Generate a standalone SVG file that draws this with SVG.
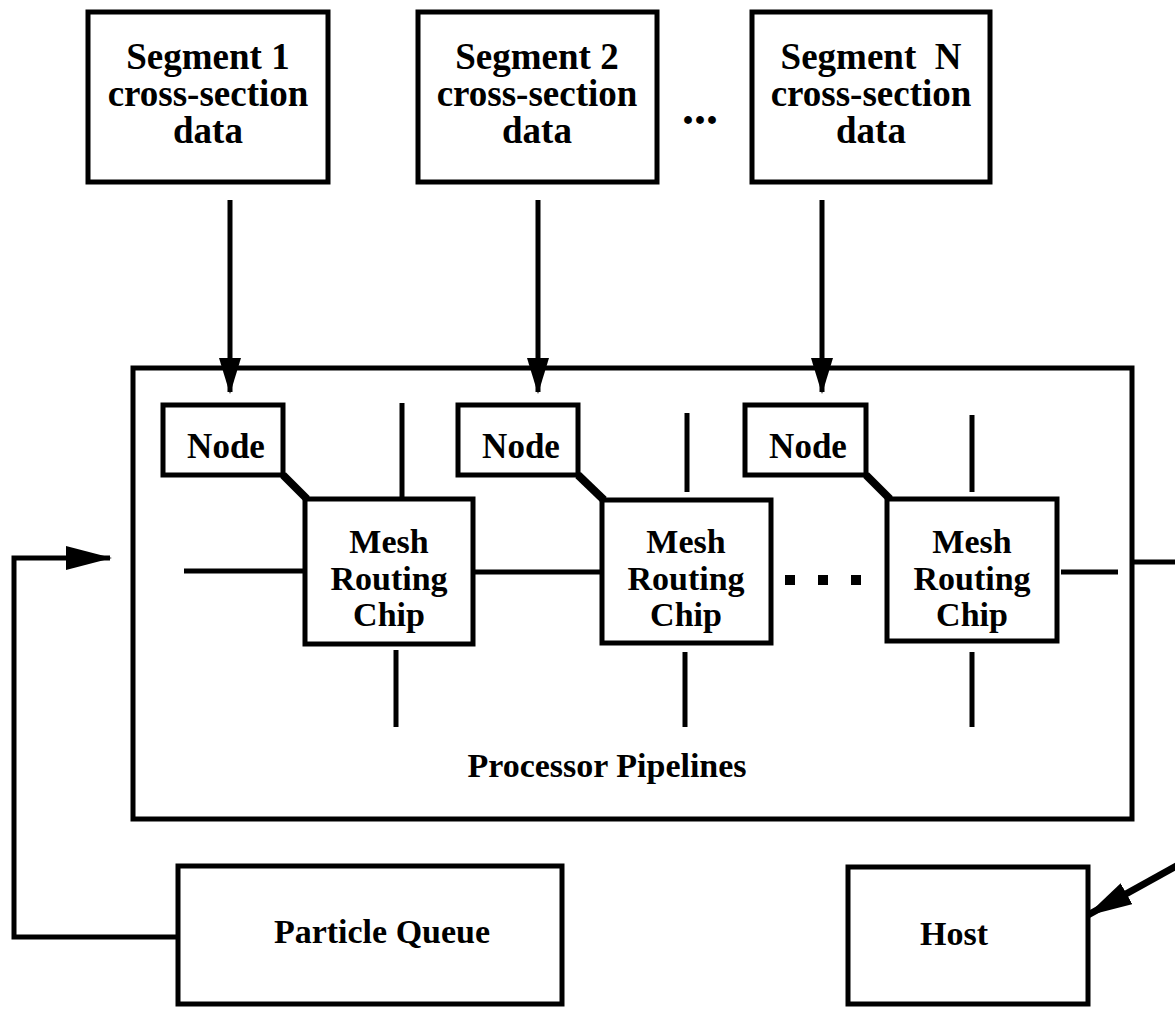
<svg xmlns="http://www.w3.org/2000/svg" width="1175" height="1010" viewBox="0 0 1175 1010">
<style>
.box{fill:#fff;stroke:#000;stroke-width:5}
.ln{fill:none;stroke:#000;stroke-width:5}
.t{font-family:"Liberation Serif",serif;font-weight:bold;font-size:34px;fill:#000;text-anchor:middle}
.s{font-size:37px}
</style>
<defs>
<marker id="ah" markerUnits="userSpaceOnUse" viewBox="0 0 36 22" refX="34" refY="11" markerWidth="36" markerHeight="22" orient="auto"><path d="M0,0 L36,11 L0,22 z" fill="#000"/></marker>
<marker id="ahL" markerUnits="userSpaceOnUse" viewBox="0 0 46 24" refX="44" refY="12" markerWidth="46" markerHeight="24" orient="auto"><path d="M0,0 L46,12 L0,24 z" fill="#000"/></marker>
</defs>
<rect width="1175" height="1010" fill="#fff"/>
<g id="seg1"><rect class="box" x="88" y="12" width="240" height="170"/>
<text class="t s" x="208" y="69">Segment 1</text><text class="t s" x="208" y="106">cross-section</text><text class="t s" x="208" y="143">data</text></g>
<g id="seg2"><rect class="box" x="418" y="12" width="239" height="170"/>
<text class="t s" x="537" y="69">Segment 2</text><text class="t s" x="537" y="106">cross-section</text><text class="t s" x="537" y="143">data</text></g>
<text class="t" x="700" y="124" style="font-size:48px">...</text>
<g id="segN"><rect class="box" x="752" y="12" width="238" height="170"/>
<text class="t s" x="871" y="69" style="white-space:pre">Segment  N</text><text class="t s" x="871" y="106">cross-section</text><text class="t s" x="871" y="143">data</text></g>
<g id="pipelines"><rect class="box" x="133" y="368" width="999" height="451"/>
<text class="t" x="607" y="777">Processor Pipelines</text></g>
<g id="mesh-lines" class="ln">
<line x1="402" y1="403" x2="402" y2="499"/><line x1="396" y1="650" x2="396" y2="727"/>
<line x1="687" y1="413" x2="687" y2="492"/><line x1="685" y1="652" x2="685" y2="727"/>
<line x1="972" y1="415" x2="972" y2="492"/><line x1="972" y1="652" x2="972" y2="727"/>
<line x1="184" y1="571" x2="305" y2="571"/><line x1="473" y1="572" x2="602" y2="572"/>
<line x1="1061" y1="572" x2="1118" y2="572"/>
<line x1="283" y1="475" x2="307" y2="499" style="stroke-width:8"/>
<line x1="578" y1="475" x2="604" y2="500" style="stroke-width:8"/>
<line x1="866" y1="475" x2="890" y2="499" style="stroke-width:8"/>
</g>
<g id="dots" fill="#000"><rect x="785" y="575" width="10" height="10"/><rect x="818" y="575" width="10" height="10"/><rect x="851" y="575" width="10" height="10"/></g>
<g id="node1"><rect class="box" x="163" y="405" width="120" height="70"/><text class="t" x="226" y="458" style="font-size:35px">Node</text></g>
<g id="node2"><rect class="box" x="458" y="405" width="120" height="70"/><text class="t" x="521" y="458" style="font-size:35px">Node</text></g>
<g id="nodeN"><rect class="box" x="745" y="405" width="121" height="70"/><text class="t" x="808" y="458" style="font-size:35px">Node</text></g>
<g id="chip1"><rect class="box" x="305" y="499" width="168" height="145"/>
<text class="t" x="389" y="553">Mesh</text><text class="t" x="389" y="590">Routing</text><text class="t" x="389" y="626">Chip</text></g>
<g id="chip2"><rect class="box" x="602" y="500" width="169" height="143"/>
<text class="t" x="686" y="553">Mesh</text><text class="t" x="686" y="590">Routing</text><text class="t" x="686" y="626">Chip</text></g>
<g id="chipN"><rect class="box" x="887" y="499" width="170" height="142"/>
<text class="t" x="972" y="553">Mesh</text><text class="t" x="972" y="590">Routing</text><text class="t" x="972" y="626">Chip</text></g>
<g id="queue"><rect class="box" x="178" y="866" width="384" height="138"/><text class="t" x="382" y="943">Particle Queue</text></g>
<g id="host"><rect class="box" x="848" y="867" width="240" height="137"/><text class="t" x="954" y="945">Host</text></g>
<g id="connectors" class="ln">
<line x1="230" y1="200" x2="230" y2="392" marker-end="url(#ah)"/>
<line x1="538" y1="200" x2="538" y2="392" marker-end="url(#ah)"/>
<line x1="822" y1="200" x2="822" y2="392" marker-end="url(#ah)"/>
<polyline points="178,937 14,937 14,558 110,558" marker-end="url(#ahL)"/>
<line x1="1132" y1="562" x2="1175" y2="562"/>
<line x1="1180" y1="864" x2="1088" y2="915" style="stroke-width:7" marker-end="url(#ahL)"/>
</g>
</svg>
